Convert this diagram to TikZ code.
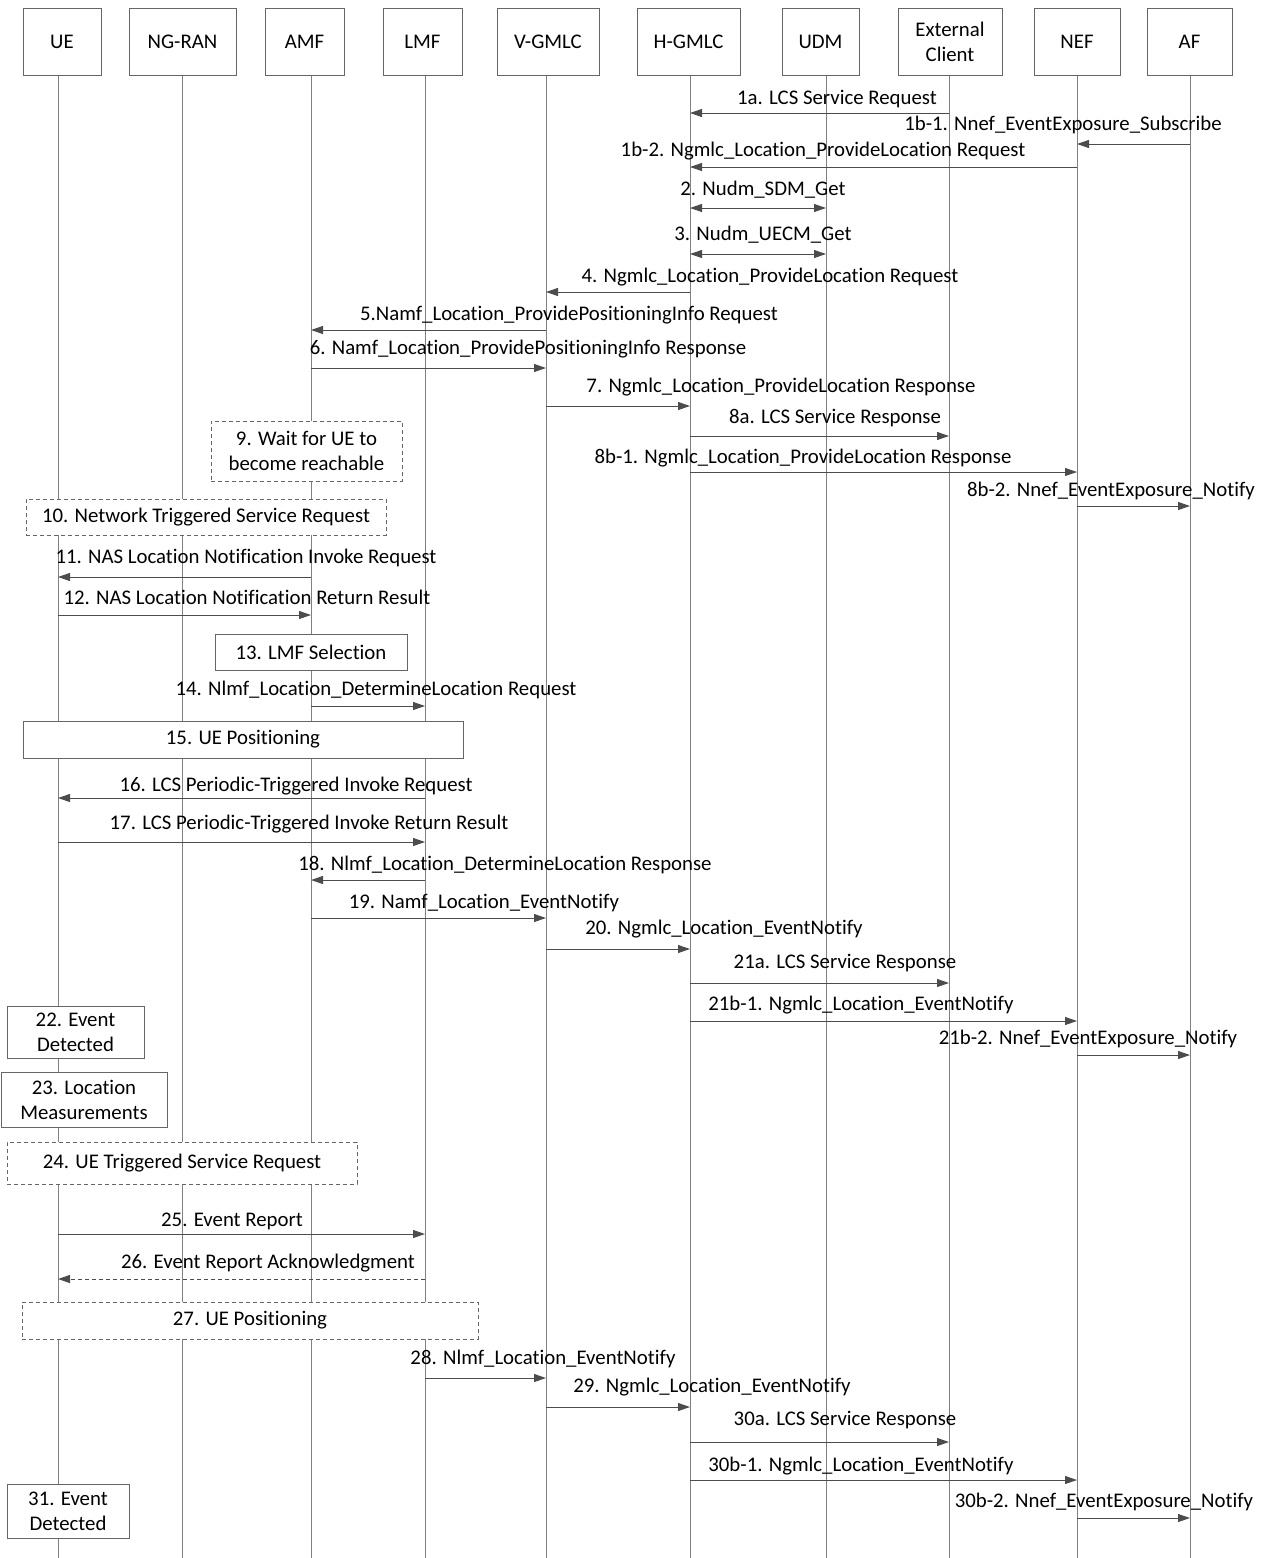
\documentclass[tikz,border=0pt]{standalone}
\usepackage{fontspec}
\setmainfont{Carlito}[Ligatures={NoCommon}]
\usetikzlibrary{arrows.meta}
\definecolor{lifec}{gray}{0.5}
\definecolor{boxc}{gray}{0.4}
\definecolor{msgc}{gray}{0.3}
\begin{document}
\begin{tikzpicture}[x=1pt,y=-1pt,
  every node/.style={font=\fontsize{20.8}{25}\selectfont},
  hdr/.style={draw=boxc, line width=1pt, fill=white, minimum height=67pt, inner sep=0pt, align=center},
  life/.style={draw=lifec, line width=1pt},
  procbox/.style={draw=boxc, line width=1pt, fill=white, inner sep=0pt, align=center},
  dashbox/.style={procbox, dash pattern=on 4pt off 3pt},
  msg/.style={draw=msgc, line width=1pt, -{Triangle[length=12pt,width=8pt]}},
  dmsg/.style={draw=msgc, line width=1pt, {Triangle[length=12pt,width=8pt]}-{Triangle[length=12pt,width=8pt]}},
  lbl/.style={inner sep=0pt, text height=14pt, text depth=4pt},
]
\useasboundingbox (0,0) rectangle (1267,1558);
% lifeline coordinates
\coordinate (ue-l) at (58,75);
\coordinate (ran-l) at (182,75);
\coordinate (amf-l) at (311,75);
\coordinate (lmf-l) at (425,75);
\coordinate (vg-l) at (546,75);
\coordinate (hg-l) at (690,75);
\coordinate (udm-l) at (826,75);
\coordinate (ext-l) at (949,75);
\coordinate (nef-l) at (1077,75);
\coordinate (af-l) at (1190,75);
\foreach \n in {ue,ran,amf,lmf,vg,hg,udm,ext,nef,af}{
  \coordinate (\n-end) at (\n-l |- 0,1558);
  \draw[life] (\n-l) -- (\n-end);
}
% headers
\node[hdr, minimum width=78pt] (ue) at (62,41.5) {UE};
\node[hdr, minimum width=107pt] (ran) at (182.5,41.5) {NG-RAN};
\node[hdr, minimum width=79pt] (amf) at (304.5,41.5) {AMF};
\node[hdr, minimum width=79pt] (lmf) at (422.5,41.5) {LMF};
\node[hdr, minimum width=102pt] (vg) at (548,41.5) {V-GMLC};
\node[hdr, minimum width=103pt] (hg) at (688.5,41.5) {H-GMLC};
\node[hdr, minimum width=77pt] (udm) at (820.5,41.5) {UDM};
\node[hdr, minimum width=104pt] (ext) at (950,41.5) {External\\Client};
\node[hdr, minimum width=86pt] (nef) at (1077,41.5) {NEF};
\node[hdr, minimum width=85pt] (af) at (1189.5,41.5) {AF};
% messages
\draw[msg] (ext-l |- 0,113) -- (hg-l |- 0,113);
\node[lbl] (l1a) at (837,99) {1a. LCS Service Request};
\draw[msg] (af-l |- 0,144) -- (nef-l |- 0,144);
\node[lbl] (l1b1) at (1063,125) {1b-1. Nnef\_EventExposure\_Subscribe};
\draw[msg] (nef-l |- 0,167) -- (hg-l |- 0,167);
\node[lbl] (l1b2) at (823,151) {1b-2. Ngmlc\_Location\_ProvideLocation Request};
\draw[dmsg] (hg-l |- 0,208) -- (udm-l |- 0,208);
\node[lbl] (l2) at (763,190) {2. Nudm\_SDM\_Get};
\draw[dmsg] (hg-l |- 0,254) -- (udm-l |- 0,254);
\node[lbl] (l3) at (763,235) {3. Nudm\_UECM\_Get};
\draw[msg] (hg-l |- 0,292) -- (vg-l |- 0,292);
\node[lbl] (l4) at (770,277) {4. Ngmlc\_Location\_ProvideLocation Request};
\draw[msg] (vg-l |- 0,330) -- (amf-l |- 0,330);
\node[lbl] (l5) at (569,315) {5.Namf\_Location\_ProvidePositioningInfo Request};
\draw[msg] (amf-l |- 0,368) -- (vg-l |- 0,368);
\node[lbl] (l6) at (528,349) {6. Namf\_Location\_ProvidePositioningInfo Response};
\draw[msg] (vg-l |- 0,406) -- (hg-l |- 0,406);
\node[lbl] (l7) at (781,387) {7. Ngmlc\_Location\_ProvideLocation Response};
\draw[msg] (hg-l |- 0,436) -- (ext-l |- 0,436);
\node[lbl] (l8a) at (835,418) {8a. LCS Service Response};
\node[dashbox, minimum width=191pt, minimum height=60pt] (b9) at (306.5,451) {9. Wait for UE to\\become reachable};
\draw[msg] (hg-l |- 0,472) -- (nef-l |- 0,472);
\node[lbl] (l8b1) at (803,458) {8b-1. Ngmlc\_Location\_ProvideLocation Response};
\draw[msg] (nef-l |- 0,506) -- (af-l |- 0,506);
\node[lbl] (l8b2) at (1111,491) {8b-2. Nnef\_EventExposure\_Notify};
\node[dashbox, minimum width=360pt, minimum height=36pt] (b10) at (206,517) {10. Network Triggered Service Request};
\draw[msg] (amf-l |- 0,577) -- (ue-l |- 0,577);
\node[lbl] (l11) at (246,558) {11. NAS Location Notification Invoke Request};
\draw[msg] (ue-l |- 0,615) -- (amf-l |- 0,615);
\node[lbl] (l12) at (247,599) {12. NAS Location Notification Return Result};
\node[procbox, minimum width=192pt, minimum height=36pt] (b13) at (311,652) {13. LMF Selection};
\draw[msg] (amf-l |- 0,706) -- (lmf-l |- 0,706);
\node[lbl] (l14) at (376,690) {14. Nlmf\_Location\_DetermineLocation Request};
\node[procbox, minimum width=440pt, minimum height=37pt] (b15) at (243,739.5) {15. UE Positioning};
\draw[msg] (lmf-l |- 0,798) -- (ue-l |- 0,798);
\node[lbl] (l16) at (296,786) {16. LCS Periodic-Triggered Invoke Request};
\draw[msg] (ue-l |- 0,842) -- (lmf-l |- 0,842);
\node[lbl] (l17) at (309,824) {17. LCS Periodic-Triggered Invoke Return Result};
\draw[msg] (lmf-l |- 0,880) -- (amf-l |- 0,880);
\node[lbl] (l18) at (505,865) {18. Nlmf\_Location\_DetermineLocation Response};
\draw[msg] (amf-l |- 0,918) -- (vg-l |- 0,918);
\node[lbl] (l19) at (484,903) {19. Namf\_Location\_EventNotify};
\draw[msg] (vg-l |- 0,949) -- (hg-l |- 0,949);
\node[lbl] (l20) at (724,929) {20. Ngmlc\_Location\_EventNotify};
\draw[msg] (hg-l |- 0,983) -- (ext-l |- 0,983);
\node[lbl] (l21a) at (845,963) {21a. LCS Service Response};
\draw[msg] (hg-l |- 0,1021) -- (nef-l |- 0,1021);
\node[lbl] (l21b1) at (861,1005) {21b-1. Ngmlc\_Location\_EventNotify};
\node[procbox, minimum width=137pt, minimum height=52pt] (b22) at (75.5,1032) {22. Event\\Detected};
\draw[msg] (nef-l |- 0,1055) -- (af-l |- 0,1055);
\node[lbl] (l21b2) at (1088,1039) {21b-2. Nnef\_EventExposure\_Notify};
\node[procbox, minimum width=166pt, minimum height=55pt] (b23) at (84,1099.5) {23. Location\\Measurements};
\node[dashbox, minimum width=350pt, minimum height=42pt] (b24) at (182,1163) {24. UE Triggered Service Request};
\draw[msg] (ue-l |- 0,1234) -- (lmf-l |- 0,1234);
\node[lbl] (l25) at (232,1221) {25. Event Report};
\draw[msg, dash pattern=on 4pt off 3pt] (lmf-l |- 0,1279) -- (ue-l |- 0,1279);
\node[lbl] (l26) at (268,1263) {26. Event Report Acknowledgment};
\node[dashbox, minimum width=456pt, minimum height=37pt] (b27) at (250,1320.5) {27. UE Positioning};
\draw[msg] (lmf-l |- 0,1378) -- (vg-l |- 0,1378);
\node[lbl] (l28) at (543,1359) {28. Nlmf\_Location\_EventNotify};
\draw[msg] (vg-l |- 0,1407) -- (hg-l |- 0,1407);
\node[lbl] (l29) at (712,1387) {29. Ngmlc\_Location\_EventNotify};
\draw[msg] (hg-l |- 0,1442) -- (ext-l |- 0,1442);
\node[lbl] (l30a) at (845,1420) {30a. LCS Service Response};
\draw[msg] (hg-l |- 0,1480) -- (nef-l |- 0,1480);
\node[lbl] (l30b1) at (861,1466) {30b-1. Ngmlc\_Location\_EventNotify};
\draw[msg] (nef-l |- 0,1518) -- (af-l |- 0,1518);
\node[lbl] (l30b2) at (1104,1502) {30b-2. Nnef\_EventExposure\_Notify};
\node[procbox, minimum width=122pt, minimum height=54pt] (b31) at (68,1511) {31. Event\\Detected};
\end{tikzpicture}
\end{document}
